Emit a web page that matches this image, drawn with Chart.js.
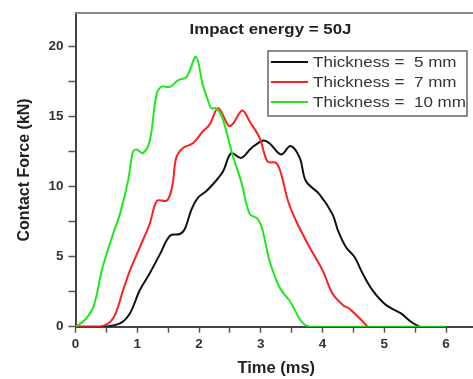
<!DOCTYPE html>
<html>
<head>
<meta charset="UTF-8">
<title>Contact force</title>
<script src="https://cdn.jsdelivr.net/npm/chart.js"></script>
<style>
    html, body { margin: 0; padding: 0; overflow: hidden; background: #fff; }
    #wrap { position: relative; width: 480px; height: 379px; }
</style>
</head>
<body>
<div id="wrap"><canvas id="grafico" width="480" height="379"></canvas></div>
<script>
    // valores
    const time5 = [0, 0.45, 0.72, 0.88, 1.04, 1.2, 1.37, 1.53, 1.69, 1.77, 1.88, 1.98, 2.12, 2.25, 2.39, 2.52, 2.68, 2.85, 3.04, 3.14, 3.33, 3.48, 3.63, 3.73, 3.95, 4.16, 4.25, 4.38, 4.52, 4.65, 4.81, 5.03, 5.27, 5.43, 5.57];
    const force5 = [0, 0, 0.24, 0.95, 2.6, 3.8, 5.2, 6.5, 6.62, 6.98, 8.4, 9.2, 9.7, 10.3, 11.1, 12.4, 12.06, 12.77, 13.3, 13.1, 12.3, 12.9, 12.06, 10.4, 9.46, 8.04, 6.86, 5.67, 4.96, 3.79, 2.6, 1.54, 0.95, 0.35, 0];

    const time7 = [0, 0.4, 0.61, 0.77, 0.88, 1.04, 1.2, 1.32, 1.47, 1.53, 1.58, 1.63, 1.74, 1.9, 2.06, 2.17, 2.31, 2.48, 2.55, 2.7, 2.82, 2.98, 3.11, 3.25, 3.33, 3.44, 3.57, 3.79, 4.0, 4.16, 4.33, 4.43, 4.6, 4.73];
    const force7 = [0, 0, 0.6, 2.6, 4.0, 5.67, 7.33, 8.99, 8.99, 9.4, 10.4, 12.06, 12.77, 13.1, 13.95, 14.43, 15.6, 14.35, 14.5, 15.45, 14.66, 13.5, 11.8, 11.7, 10.9, 9.0, 7.57, 5.67, 4.02, 2.37, 1.54, 1.3, 0.6, 0];

    const time10 = [0, 0.15, 0.29, 0.44, 0.61, 0.72, 0.85, 0.93, 0.99, 1.09, 1.2, 1.31, 1.39, 1.53, 1.66, 1.8, 1.95, 2.06, 2.14, 2.2, 2.28, 2.38, 2.54, 2.68, 2.82, 2.95, 3.03, 3.14, 3.3, 3.46, 3.79, 6.0];
    const force10 = [0, 0.48, 1.42, 4.26, 6.65, 8.06, 10.4, 12.5, 12.65, 12.4, 13.24, 16.55, 17.14, 17.14, 17.6, 17.85, 19.27, 17.28, 16.22, 15.6, 15.6, 14.9, 12.3, 10.4, 8.06, 7.7, 6.86, 4.73, 2.84, 1.89, 0, 0];

    const seriesLabels = ['Thickness =  5 mm', 'Thickness =  7 mm', 'Thickness =  10 mm'];
    const seriesColors = ['#111111', '#ff1f1f', '#1de81d'];
    const chartTitle = 'Impact energy = 50J';

    const FONT = "'Liberation Sans', Arial, sans-serif";

    function pontos(xs, ys) {
        return xs.map((x, i) => ({ x: x, y: ys[i] }));
    }

    // borda superior, titulo interno e legenda com caixa
    const extras = {
        id: 'extras',
        afterDraw(chart) {
            const ctx = chart.ctx;
            const a = chart.chartArea;
            ctx.save();
            ctx.strokeStyle = '#8a8a8a';
            ctx.lineWidth = 2;
            ctx.beginPath();
            ctx.moveTo(a.left, a.top);
            ctx.lineTo(a.right + 2, a.top);
            ctx.stroke();

            ctx.fillStyle = '#222';
            ctx.font = 'bold 15.5px ' + FONT;
            ctx.textAlign = 'center';
            ctx.textBaseline = 'middle';
            ctx.save();
            ctx.translate(270.5, 30);
            ctx.scale(1.09, 1);
            ctx.fillText(chartTitle, 0, 0);
            ctx.restore();

            // caixa da legenda
            const bx = 268, by = 51, bw = 199, bh = 65;
            ctx.fillStyle = '#fff';
            ctx.fillRect(bx, by, bw, bh);
            ctx.strokeStyle = '#666';
            ctx.lineWidth = 1.5;
            ctx.strokeRect(bx, by, bw, bh);
            ctx.font = '15.5px ' + FONT;
            ctx.textAlign = 'left';
            chart.data.datasets.forEach((ds, i) => {
                const y = 62 + i * 20;
                ctx.strokeStyle = ds.borderColor;
                ctx.lineWidth = 2;
                ctx.beginPath();
                ctx.moveTo(271, y);
                ctx.lineTo(308, y);
                ctx.stroke();
                ctx.fillStyle = '#333';
                ctx.save();
                ctx.translate(313, y + 1);
                ctx.scale(1.1, 1);
                ctx.fillText(ds.label, 0, 0);
                ctx.restore();
            });
            ctx.restore();
        }
    };

    const ds = [
        { label: seriesLabels[0], data: pontos(time5, force5), borderColor: seriesColors[0], order: 3 },
        { label: seriesLabels[1], data: pontos(time7, force7), borderColor: seriesColors[1], order: 2 },
        { label: seriesLabels[2], data: pontos(time10, force10), borderColor: seriesColors[2], order: 1 }
    ].map(d => Object.assign(d, {
        showLine: true,
        borderWidth: 2,
        pointRadius: 0,
        tension: 0.35,
        fill: false
    }));

    new Chart(document.getElementById('grafico'), {
        type: 'scatter',
        data: { datasets: ds },
        plugins: [extras],
        options: {
            responsive: false,
            animation: false,
            layout: { padding: { top: 10.7, right: 2, left: 0, bottom: 0 } },
            plugins: {
                legend: { display: false },
                tooltip: { enabled: false }
            },
            scales: {
                x: {
                    type: 'linear',
                    min: 0,
                    max: 6.5,
                    afterFit: s => { s.height = 52.3; },
                    border: { display: true, color: '#444', width: 2 },
                    grid: { drawOnChartArea: false, drawTicks: true, tickLength: 6, tickColor: '#555', tickWidth: 1.5 },
                    ticks: {
                        stepSize: 0.5,
                        padding: 3,
                        maxRotation: 0,
                        autoSkip: false,
                        color: '#333',
                        font: { family: FONT, size: 13.5, weight: 'bold' },
                        callback: v => Number.isInteger(v) && v <= 6 ? v : ''
                    },
                    title: {
                        display: true,
                        text: 'Time (ms)',
                        color: '#222',
                        font: { family: FONT, size: 16.5, weight: 'bold' },
                        padding: { top: 1, bottom: 1 }
                    }
                },
                y: {
                    min: 0,
                    max: 22.4,
                    afterFit: s => { s.width = 75.5; },
                    afterBuildTicks: s => { s.ticks = s.ticks.filter(t => Math.abs(t.value / 2.5 - Math.round(t.value / 2.5)) < 1e-6); },
                    border: { display: true, color: '#444', width: 2 },
                    grid: { drawOnChartArea: false, drawTicks: true, tickLength: 7, tickColor: '#555', tickWidth: 1.5 },
                    ticks: {
                        stepSize: 2.5,
                        padding: 5,
                        autoSkip: false,
                        color: '#333',
                        font: { family: FONT, size: 13.5, weight: 'bold' },
                        callback: v => v % 5 === 0 ? v : ''
                    },
                    title: {
                        display: true,
                        text: 'Contact Force (kN)',
                        color: '#222',
                        font: { family: FONT, size: 16, weight: 'bold' },
                        padding: { top: 15, bottom: 0 }
                    }
                }
            }
        }
    });
</script>
</body>
</html>
